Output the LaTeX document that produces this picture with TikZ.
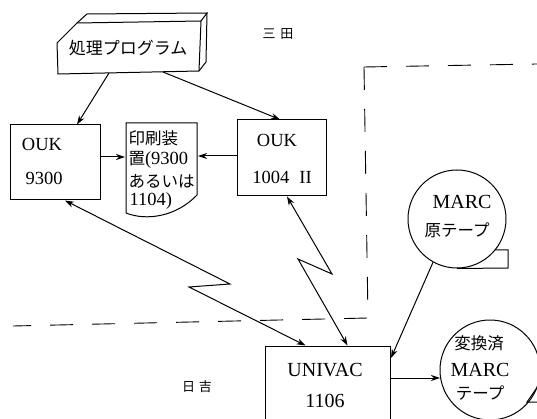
\documentclass[tikz,border=0pt]{standalone}
\usepackage{fontspec}
\setmainfont{Liberation Serif}
\newfontfamily\jp{Noto Sans CJK JP}
\usetikzlibrary{arrows.meta}
\begin{document}
\begin{tikzpicture}[x=1pt,y=-1pt,line width=1pt,
  arr/.style={-{Stealth[length=9pt,width=6pt]}},
  darr/.style={{Stealth[length=9pt,width=6pt]}-{Stealth[length=9pt,width=6pt]}},
  boxn/.style={draw,rectangle,inner sep=0pt},
  tape/.style={draw,circle,inner sep=0pt},
  lat/.style={font=\fontsize{18.5}{20}\selectfont,inner sep=0pt},
  latb/.style={font=\fontsize{20}{22}\selectfont,inner sep=0pt},
  jpt/.style={font=\jp\fontsize{16.5}{20}\selectfont,inner sep=0pt},
  jps/.style={font=\jp\fontsize{13}{15}\selectfont,inner sep=0pt},
  area/.style={line width=0.9pt,dash pattern=on 23pt off 19pt}]
\useasboundingbox (0,0) rectangle (537,419);

% campus boundary
\draw[area] (364,67) -- (537,64);
\draw[area] (364,67) -- (368,318) -- (13,326);
\node[jps] (mita) at (278,34) {三\hspace{5pt}田};
\node[jps] (hiyoshi) at (197,387) {日\hspace{4pt}吉};

% processing program block
\draw (57,43) -- (77,23) -- (201,21) -- (199,71) -- (58,74) -- cycle;
\draw (77,23) -- (87,14) -- (207,13) -- (201,21);
\draw (207,13) -- (206,62) -- (199,71);
\node[jpt,font=\jp\fontsize{17}{20}\selectfont] (prog) at (128,48) {処理プログラム};
\coordinate (pb1) at (109,73);
\coordinate (pb2) at (163,72);

% OUK 9300
\node[boxn,minimum width=90pt,minimum height=75pt] (ouk1) at (55,162.5) {};
\node[lat] (ouk1a) at (42,144) {OUK};
\node[lat] (ouk1b) at (44,178) {9300};

% OUK 1004 II
\node[boxn,minimum width=89pt,minimum height=76pt] (ouk2) at (281.5,158) {};
\node[lat] (ouk2a) at (277,140) {OUK};
\node[lat] (ouk2b) at (282,177) {1004\hspace{0.55em}II};

% printer (document shape)
\draw (126,123) -- (197,123) -- (197,195) .. controls (176,217) and (146,221) .. (126,213) -- cycle;
\node[jpt,anchor=west] (prt1) at (128,138) {印刷装};
\node[lat,anchor=west] (prt2) at (128,160) {{\jp\fontsize{16.5}{20}\selectfont 置}(9300};
\node[jpt,anchor=west] (prt3) at (128,181) {あるいは};
\node[lat,anchor=west] (prt4) at (129,201) {1104)};
\coordinate (pin1) at (125,157);
\coordinate (pin2) at (198,156);

% UNIVAC 1106
\node[boxn,minimum width=125pt,minimum height=90pt] (univac) at (327.5,391) {};
\node[latb] (univa) at (325,370) {UNIVAC};
\node[latb] (univb) at (325,401) {1106};

% MARC source tape
\node[tape,minimum size=98pt] (marc) at (457,219) {};
\draw (marc.south) -- (508,268) -- (508,250) -- (494.5,250);
\node[latb] (marca) at (462,202) {MARC};
\node[jpt] (marcb) at (457,230) {原テープ};

% converted MARC tape
\node[tape,minimum size=100pt] (conv) at (490,370) {};
\draw (536,389) -- (527,402) -- (537,402);
\node[jpt] (conva) at (479,343) {変換済};
\node[latb] (convb) at (480,370) {MARC};
\node[jpt] (convc) at (480,393) {テープ};

% connectors
\draw[arr] (pb1) -- ([xshift=22pt]ouk1.north);
\draw[arr] (pb2) -- ([xshift=-1.5pt]ouk2.north);
\draw[arr] (ouk1.east |- pin1) -- (pin1);
\draw[arr] (ouk2.west |- pin2) -- (pin2);
\draw[darr] ([xshift=10pt]ouk1.south) -- (230,284) -- (189,287) -- ([xshift=-22pt]univac.north);
\draw[darr] ([xshift=5.5pt]ouk2.south) -- (332,274) -- (298,259) -- ([xshift=20pt]univac.north);
\coordinate (uin) at (391,358);
\draw[arr] (marc.241) -- (uin);
\coordinate (cin) at (440,378);
\draw[arr] (univac.east |- cin) -- (cin);
\end{tikzpicture}
\end{document}
